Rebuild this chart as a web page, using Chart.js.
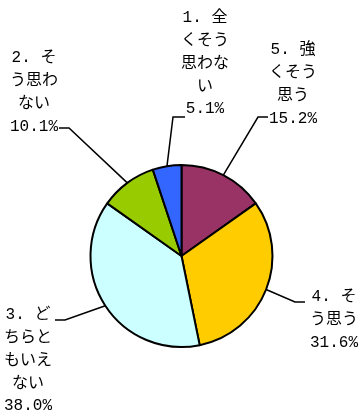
<!DOCTYPE html>
<html>
<head>
<meta charset="utf-8">
<script src="https://cdn.jsdelivr.net/npm/chart.js@4/dist/chart.umd.min.js"></script>
<style>
  body { margin: 0; background: #fff; }
</style>
</head>
<body>
<canvas id="myChart" width="361" height="419"></canvas>
<script>
// data, clockwise from 12 o'clock
const categories = ['5. 強くそう思う', '4. そう思う', '3. どちらともいえない', '2. そう思わない', '1. 全くそう思わない'];
const percents = [15.2, 31.6, 38.0, 10.1, 5.1];
const colors = ['#993366', '#FFCC00', '#CCFFFF', '#99CC00', '#3366FF'];

// where each label sits (centre x, first line y) and its leader line bends
const labelLayout = [
    { x: 293, y: 50, elbow: [258, 117], end: [268, 117] },
    { x: 334, y: 297, elbow: [295, 302], end: [305, 302] },
    { x: 28, y: 315, elbow: [65, 320], end: [55, 320] },
    { x: 34, y: 58, elbow: [69, 128], end: [59, 128] },
    { x: 205, y: 18, elbow: [173, 117], end: [185, 117] },
];
const lineHeight = 22.8;

// "N. 強くそう..." -> "N. 強", then 3 chars per line
function wrapLabel(text) {
    const prefix = text.slice(0, 3);
    const rest = Array.from(text.slice(3));
    const lines = [prefix + rest.shift()];
    for (let i = 0; i < rest.length; i += 3) {
        lines.push(rest.slice(i, i + 3).join(''));
    }
    return lines;
}

const labelPlugin = {
    id: 'pieLabels',
    afterDraw(chart) {
        const ctx = chart.ctx;
        const arcs = chart.getDatasetMeta(0).data;
        ctx.save();
        arcs.forEach((arc, i) => {
            const p = arc.getProps(['x', 'y', 'startAngle', 'endAngle', 'outerRadius'], true);
            const mid = (p.startAngle + p.endAngle) / 2;
            const lay = labelLayout[i];

            // leader line
            ctx.strokeStyle = '#000';
            ctx.lineWidth = 1.5;
            ctx.beginPath();
            ctx.moveTo(p.x + Math.cos(mid) * p.outerRadius, p.y + Math.sin(mid) * p.outerRadius);
            ctx.lineTo(lay.elbow[0], lay.elbow[1]);
            ctx.lineTo(lay.end[0], lay.end[1]);
            ctx.stroke();

            // text
            const lines = wrapLabel(categories[i]);
            lines.push(percents[i].toFixed(1) + '%');
            ctx.fillStyle = '#000';
            ctx.font = '16px "Liberation Mono", "Noto Sans CJK JP"';
            ctx.textAlign = 'center';
            ctx.textBaseline = 'middle';
            lines.forEach((line, j) => {
                ctx.fillText(line, lay.x, lay.y + j * lineHeight);
            });
        });
        ctx.restore();
    }
};

const ctx = document.getElementById('myChart').getContext('2d');
new Chart(ctx, {
    type: 'pie',
    data: {
        labels: categories,
        datasets: [{
            data: percents,
            backgroundColor: colors,
            borderColor: '#000',
            borderWidth: 2,
        }]
    },
    options: {
        responsive: false,
        animation: false,
        layout: { padding: { left: 89.5, right: 87.5, top: 164, bottom: 71 } },
        plugins: {
            legend: { display: false },
            tooltip: { enabled: false },
        }
    },
    plugins: [labelPlugin]
});
</script>
</body>
</html>
